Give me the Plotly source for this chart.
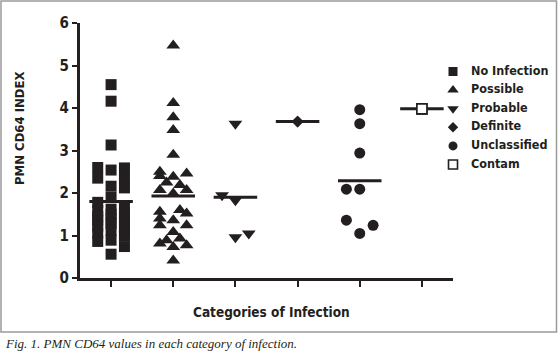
import plotly.graph_objects as go

# ---- data ----
categories = ["No Infection", "Possible", "Probable", "Definite", "Unclassified", "Contam"]
symbols = ["square", "triangle-up", "triangle-down", "diamond", "circle", "square-open"]
marker_sizes = [11, 12, 12, 9, 11, 10]
legend_sizes = [9, 10, 10, 8, 9, 9]

no_infection = [4.55, 4.16, 3.13, 2.60, 2.35, 2.54, 2.59, 2.35, 2.12, 2.16, 1.90, 1.78, 1.70,
                1.62, 1.58, 1.52, 1.50, 1.45, 1.42, 1.38, 1.35, 1.30, 1.28, 1.22, 1.18, 1.12,
                1.05, 1.00, 1.06, 0.86, 0.89, 0.74, 0.56]
no_infection_col = [0, 0, 0, -1, -1, 0, 1, 1, 1, 0, 0, -1, 1, 0, -1, 1, 0, -1, 1, 0, -1, 1,
                    0, -1, 1, 0, 1, 1, -1, -1, 0, 1, 0]
possible = [5.47, 4.12, 3.78, 3.48, 2.90, 2.50, 2.40, 2.38, 2.46, 2.25, 2.19, 2.07, 2.07, 1.99,
            1.56, 1.40, 1.24, 1.60, 1.52, 1.36, 1.24, 1.08, 0.89, 0.93, 0.81, 0.77, 0.73, 0.41]
possible_col = [0, 0, 0, 0, 0, -1, -1, 0, 1, -0.5, 0.5, -1, 1, 0, -1, -1, -1, 0.5, 1, 0, 1, 0,
                -0.5, 0.5, -1, 1, 0, 0]
probable = [3.63, 1.95, 1.83, 0.96, 1.05]
probable_col = [0, -1, 0, 0, 1]
definite = [3.68]
definite_col = [0]
unclassified = [3.96, 3.63, 2.94, 2.09, 2.09, 1.36, 1.05, 1.24]
unclassified_col = [0, 0, 0, -1, 0, -1, 0, 1]
contam = [3.98]
contam_col = [0]
group_means = [1.80, 1.93, 1.90, 3.68, 2.29, 3.98]

y_ticks = [0, 1, 2, 3, 4, 5, 6]

values = [no_infection, possible, probable, definite, unclassified, contam]
cols = [no_infection_col, possible_col, probable_col, definite_col, unclassified_col, contam_col]

# ---- style ----
INK = "#231f20"
SANS = "Liberation Sans Narrow, DejaVu Sans Condensed, Roboto, sans-serif"
SERIF = "Liberation Serif, DejaVu Serif, serif"
COL_STEP = 0.215
HALF_LINE = 0.35

W, H = 558, 353
L, R, T, B = 80, 5, 23, 75
PW, PH = W - L - R, H - T - B
PLOT_RIGHT = 453                     # right end of the x axis line (px)
LEG_LEFT = 440                       # left edge of the legend panel (px)
LEG_MARK_X, LEG_TEXT_X = 453, 471    # legend symbol / label x (px)
LEG_TOP, LEG_STEP = 71.5, 18.6       # legend first row y and row spacing (px)


def px_x(p):
    return (p - L) / PW


def px_y(p):
    return (H - B - p) / PH


fig = go.Figure()

# data points
for i, (name, vals, cc) in enumerate(zip(categories, values, cols)):
    xpos = [i + 1 + c * COL_STEP for c in cc]
    fig.add_trace(go.Scatter(
        x=xpos, y=vals, mode="markers", name=name,
        marker=dict(symbol=symbols[i], size=marker_sizes[i], color=INK,
                    line=dict(color=INK, width=1.6 if "open" in symbols[i] else 0)),
        cliponaxis=False, showlegend=False,
    ))

# mean lines
for i, m in enumerate(group_means):
    fig.add_trace(go.Scatter(
        x=[i + 1 - HALF_LINE, i + 1 + HALF_LINE], y=[m, m], mode="lines",
        line=dict(color=INK, width=3), showlegend=False, hoverinfo="skip",
        cliponaxis=False,
    ))

# redraw markers on top of the mean lines for Definite / Contam
for i in (3, 5):
    fig.add_trace(go.Scatter(
        x=[i + 1 + c * COL_STEP for c in cols[i]], y=values[i], mode="markers",
        marker=dict(symbol="diamond" if i == 3 else "square", size=marker_sizes[i],
                    color=INK if i == 3 else "white",
                    line=dict(color=INK, width=1.6 if i == 5 else 0)),
        showlegend=False, cliponaxis=False, hoverinfo="skip",
    ))

# legend panel drawn on its own (hidden) pixel-unit axes
rows = [LEG_TOP + LEG_STEP * k for k in range(len(categories))]
for k, name in enumerate(categories):
    fig.add_trace(go.Scatter(
        x=[LEG_MARK_X], y=[rows[k]], mode="markers", xaxis="x2", yaxis="y2",
        marker=dict(symbol=symbols[k], size=legend_sizes[k], color=INK,
                    line=dict(color=INK, width=1.6 if "open" in symbols[k] else 0)),
        showlegend=False, cliponaxis=False, hoverinfo="skip",
    ))
fig.add_trace(go.Scatter(
    x=[LEG_TEXT_X] * len(categories), y=rows, mode="text", text=categories,
    textposition="middle right", xaxis="x2", yaxis="y2",
    textfont=dict(family=SANS, size=12.5, weight="bold", color=INK),
    showlegend=False, cliponaxis=False, hoverinfo="skip",
))

fig.update_layout(
    width=W, height=H,
    margin=dict(l=L, r=R, t=T, b=B),
    paper_bgcolor="white", plot_bgcolor="rgba(0,0,0,0)",
    font=dict(family=SANS, color=INK),
    showlegend=False,
    xaxis=dict(
        domain=[0, px_x(PLOT_RIGHT)],
        range=[0.5, 6.5], tickvals=[1, 2, 3, 4, 5, 6], ticktext=[""] * 6,
        showgrid=False, zeroline=False, showline=True, linewidth=3, linecolor=INK,
        ticks="outside", ticklen=6, tickwidth=2, tickcolor=INK,
    ),
    yaxis=dict(
        range=[0, 6], tickvals=y_ticks,
        showgrid=False, zeroline=False, showline=True, linewidth=3, linecolor=INK,
        ticks="outside", ticklen=5, tickwidth=2, tickcolor=INK,
        tickfont=dict(family=SANS, size=15, weight="bold", color=INK),
    ),
    xaxis2=dict(domain=[px_x(LEG_LEFT), 1], range=[LEG_LEFT, W - R], visible=False,
                anchor="y2", fixedrange=True),
    yaxis2=dict(domain=[0, 1], range=[H - B, T], visible=False, anchor="x2", fixedrange=True),
    annotations=[
        dict(text="Categories of Infection", x=px_x(271), y=px_y(312),
             xref="paper", yref="paper", showarrow=False, xanchor="center", yanchor="middle",
             font=dict(family=SANS, size=13.5, weight="bold", color=INK)),
        dict(text="PMN CD64 INDEX", textangle=-90, x=px_x(19), y=px_y(128),
             xref="paper", yref="paper", showarrow=False, xanchor="center", yanchor="middle",
             font=dict(family=SANS, size=13, weight="bold", color=INK)),
        dict(text="<i>Fig. 1. PMN CD64 values in each category of infection.</i>",
             x=px_x(3), y=px_y(343), xref="paper", yref="paper", showarrow=False,
             xanchor="left", yanchor="middle",
             font=dict(family=SERIF, size=13, color=INK)),
    ],
    shapes=[
        dict(type="rect", xref="paper", yref="paper",
             x0=px_x(1), x1=px_x(556.5), y0=px_y(332), y1=px_y(1),
             line=dict(color="#9a9a9a", width=1.5), fillcolor="rgba(0,0,0,0)"),
    ],
)

fig.write_html(
    "out.html",
    config={"displayModeBar": False},
    post_script="document.body.style.margin='0';document.body.style.overflow='hidden';",
)
